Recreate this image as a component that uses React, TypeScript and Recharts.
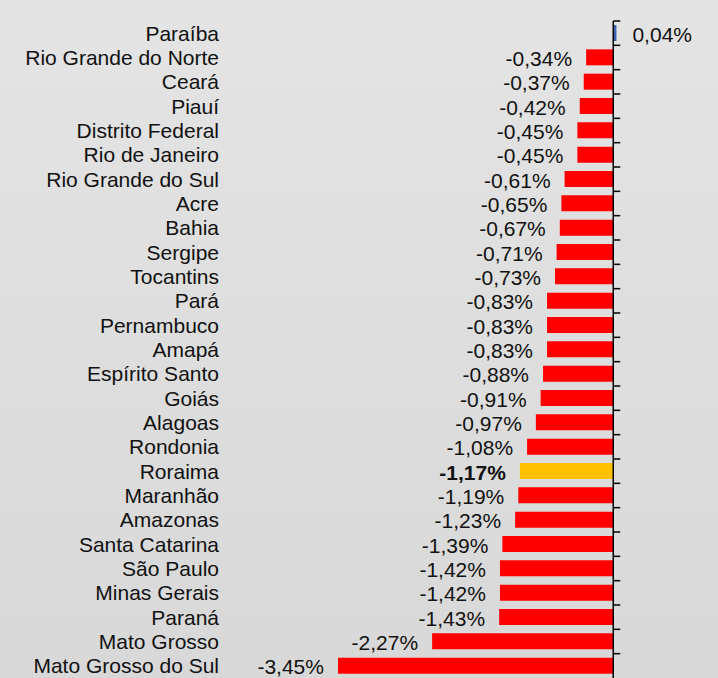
import { Bar, BarChart, Cell, LabelList, ReferenceLine, XAxis, YAxis } from "recharts";

const states = [
  "Paraíba", "Rio Grande do Norte", "Ceará", "Piauí", "Distrito Federal", "Rio de Janeiro",
  "Rio Grande do Sul", "Acre", "Bahia", "Sergipe", "Tocantins", "Pará", "Pernambuco", "Amapá",
  "Espírito Santo", "Goiás", "Alagoas", "Rondonia", "Roraima", "Maranhão", "Amazonas",
  "Santa Catarina", "São Paulo", "Minas Gerais", "Paraná", "Mato Grosso", "Mato Grosso do Sul"
];

const change = [
  0.04, -0.34, -0.37, -0.42, -0.45, -0.45, -0.61, -0.65, -0.67, -0.71, -0.73, -0.83, -0.83, -0.83,
  -0.88, -0.91, -0.97, -1.08, -1.17, -1.19, -1.23, -1.39, -1.42, -1.42, -1.43, -2.27, -3.45
];

const highlight = "Roraima";

const data = states.map((name, i) => ({ name, value: change[i] }));

const font = "'Liberation Sans', Arial, sans-serif";

const fmt = (v: number) => v.toFixed(2).replace(".", ",") + "%";

function ValueLabel(props: any) {
  const { x, y, width, height, value, index } = props;
  const left = Math.min(x, x + width);
  const right = Math.max(x, x + width);
  const neg = value < 0;
  const bold = states[index] === highlight;
  return (
    <text
      x={neg ? left - 14 : right + 16}
      y={y + height / 2 + 1}
      textAnchor={neg ? "end" : "start"}
      dominantBaseline="central"
      fontSize={21}
      fontFamily={font}
      fontWeight={bold ? "bold" : "normal"}
      fill="#111"
    >
      {fmt(value)}
    </text>
  );
}

function AxisTick(props: any) {
  return <line x1={props.x1} y1={props.y1} x2={props.x1 + 7} y2={props.y1} stroke="#000" strokeWidth={1.5} />;
}

export default function App() {
  return (
    <div
      style={{
        position: "absolute",
        left: 0,
        top: 0,
        width: 718,
        height: 678,
        background: "linear-gradient(#e4e4e4, #d8d8d8)",
        fontFamily: font
      }}
    >
      <BarChart
        width={718}
        height={678}
        data={data}
        layout="vertical"
        margin={{ top: 21, right: 9, bottom: 0, left: 0 }}
      >
        <XAxis type="number" domain={[-3.5, 1.2]} hide />
        <YAxis
          type="category"
          dataKey="name"
          width={334}
          axisLine={false}
          tickLine={false}
          tickSize={0}
          tickMargin={115}
          interval={0}
          tick={{ fontSize: 21, fill: "#111", fontFamily: font }}
        />
        <Bar dataKey="value" barSize={16} isAnimationActive={false}>
          {data.map((d) => (
            <Cell
              key={d.name}
              fill={d.name === highlight ? "#ffc000" : d.value >= 0 ? "#3c64b4" : "#ff0000"}
            />
          ))}
          <LabelList dataKey="value" content={ValueLabel} />
        </Bar>
        <ReferenceLine x={0} stroke="#000" strokeWidth={1.5} />
        {states.map((s) => (
          <ReferenceLine
            key={"t" + s}
            segment={[{ x: 0, y: s }, { x: 0, y: s }]}
            position="start"
            shape={AxisTick}
          />
        ))}
      </BarChart>
    </div>
  );
}
